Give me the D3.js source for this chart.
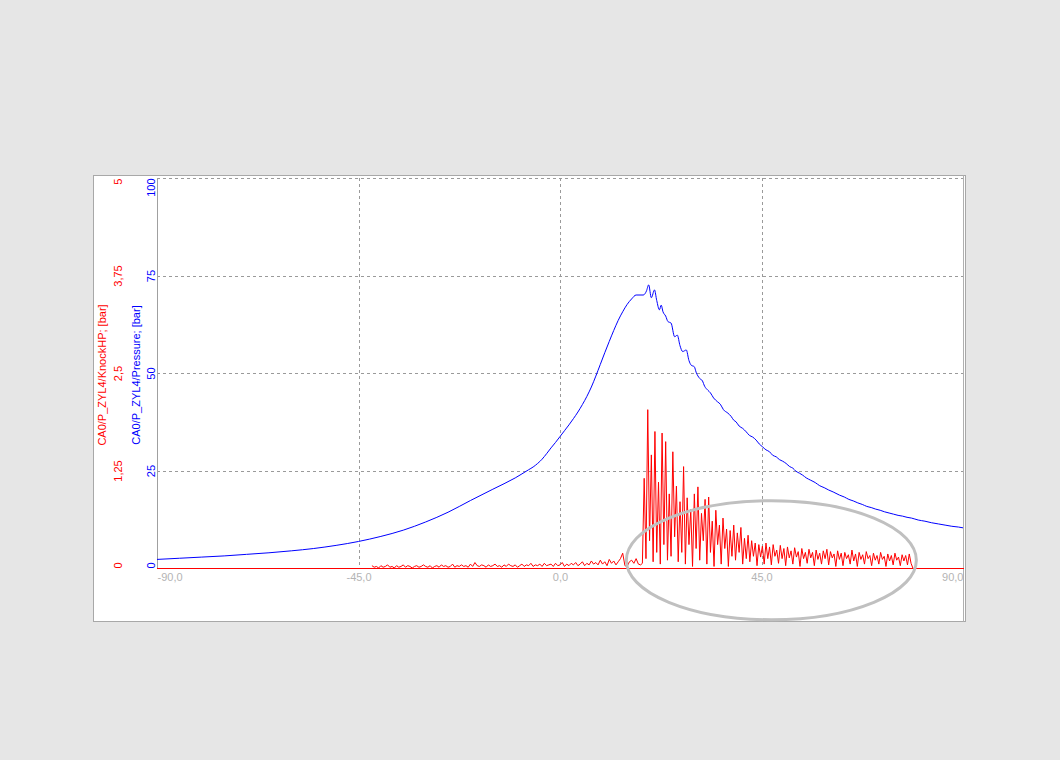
<!DOCTYPE html>
<html>
<head>
<meta charset="utf-8">
<script src="https://cdn.jsdelivr.net/npm/d3@7"></script>
<style>
  html, body { margin: 0; padding: 0; background: #e6e6e6; }
  svg { display: block; }
  text { font-family: "Liberation Sans", Arial, sans-serif; font-size: 11px; }
</style>
</head>
<body>
<svg id="chart" width="1060" height="760"></svg>
<script>
// ---------------- DATA ----------------
const xTickValues = [-90, -45, 0, 45, 90];
const xTickLabels = ["-90,0", "-45,0", "0,0", "45,0", "90,0"];
const pressureTicks = [0, 25, 50, 75, 100];
const pressureTickLabels = ["0", "25", "50", "75", "100"];
const knockTicks = [0, 1.25, 2.5, 3.75, 5];
const knockTickLabels = ["0", "1,25", "2,5", "3,75", "5"];
const pressureTitle = "CA0/P_ZYL4/Pressure; [bar]";
const knockTitle = "CA0/P_ZYL4/KnockHP; [bar]";

// Cylinder pressure [bar] vs crank angle [deg]
const pressureAngles = [
  -90, -85, -80, -75, -70, -65, -60, -55, -50, -45,
  -40, -35, -30, -25, -20, -15, -10, -7, -6, -5,
  -4, -3, -2, -1, 0, 1, 2, 3, 4, 5,
  6, 7, 8, 9, 10, 11, 12, 13, 14, 15,
  16, 17, 18.6, 19.3, 19.8, 20.4, 21.1, 21.6, 22.2, 22.6,
  23.0, 23.6, 24.1, 24.8, 25.6, 26.2, 26.8, 27.4, 28.2, 28.8,
  29.3, 30.0, 30.4, 31.2, 31.8, 32.3, 33.0, 33.6, 34.3, 35.2,
  35.8, 36.5, 37.5, 38.2, 38.8, 39.3, 40.0, 40.8, 41.6, 42.3,
  43.0, 43.8, 44.5, 45.2, 46.0, 46.8, 47.5, 48.3, 49.0, 49.7,
  50.5, 51.3, 52.0, 52.7, 53.5, 54.2, 55.0, 56.0, 57.0, 58.0,
  59.0, 60.0, 61.0, 62.4, 63.5, 64.5, 65.5, 66.5, 67.5, 68.5,
  69.5, 70.5, 71.5, 72.5, 73.5, 74.5, 75.5, 76.5, 77.5, 78.5,
  80.0, 81.5, 83.0, 84.5, 86.0, 87.5, 89.0, 90.0
];
const pressureValues = [
  2.2, 2.5, 2.8, 3.1, 3.5, 3.9, 4.4, 5.0, 5.8, 6.8,
  8.1, 9.7, 11.8, 14.3, 17.3, 20.2, 23.1, 25.2, 25.9, 26.8,
  27.9, 29.3, 30.8, 32.2, 33.7, 35.2, 36.7, 38.3, 40.0, 41.9,
  44.0, 46.4, 49.2, 52.2, 55.2, 58.1, 60.9, 63.5, 65.7, 67.6,
  69.0, 70.0, 70.0, 71.0, 72.6, 69.3, 71.3, 68.6, 66.2, 67.4,
  65.7, 64.6, 63.2, 62.8, 59.3, 59.7, 57.0, 55.5, 55.9, 53.2,
  52.0, 51.6, 50.2, 48.6, 48.0, 46.6, 45.6, 44.9, 43.6, 42.6,
  42.0, 40.6, 39.7, 38.9, 37.9, 37.5, 36.4, 35.8, 34.9, 34.0,
  33.6, 32.8, 31.8, 31.1, 30.3, 29.8, 28.9, 28.5, 27.8, 27.4,
  26.8, 26.0, 25.6, 24.8, 24.3, 23.8, 23.1, 22.5, 21.9, 21.1,
  20.6, 20.0, 19.5, 18.7, 18.2, 17.6, 17.2, 16.7, 16.3, 15.8,
  15.5, 15.1, 14.8, 14.4, 14.1, 13.8, 13.5, 13.3, 13.0, 12.8,
  12.3, 12.0, 11.6, 11.3, 11.0, 10.7, 10.5, 10.3
];

// Knock (high-pass) signal [bar]: background noise segment, 0.5 deg sampling from -42 deg
const noiseStart = -42;
const noiseStep = 0.5;
const noiseValues = [
  0.03, 0.01, 0.02, 0.00, 0.03, 0.01, 0.02, 0.04, 0.01, 0.02,
  0.00, 0.03, 0.01, 0.02, 0.04, 0.01, 0.03, 0.02, 0.00, 0.02,
  0.03, 0.01, 0.02, 0.04, 0.02, 0.01, 0.03, 0.00, 0.02, 0.03,
  0.01, 0.04, 0.02, 0.03, 0.01, 0.02, 0.05, 0.01, 0.03, 0.02,
  0.04, 0.02, 0.03, 0.01, 0.05, 0.02, 0.07, 0.03, 0.02, 0.04,
  0.03, 0.01, 0.04, 0.02, 0.03, 0.05, 0.02, 0.03, 0.01, 0.04,
  0.02, 0.05, 0.03, 0.02, 0.04, 0.01, 0.03, 0.05, 0.02, 0.04,
  0.03, 0.06, 0.02, 0.04, 0.03, 0.05, 0.02, 0.06, 0.03, 0.04,
  0.05, 0.02, 0.06, 0.03, 0.04, 0.07, 0.02, 0.05, 0.03, 0.06,
  0.04, 0.07, 0.03, 0.05, 0.08, 0.03, 0.06, 0.04, 0.09, 0.05,
  0.07, 0.04, 0.10, 0.05, 0.08, 0.03, 0.11, 0.06, 0.09, 0.04,
  0.08, 0.12, 0.19, 0.03, 0.02, 0.08, 0.10, 0.06, 0.12, 0.05,
  0.04
];
// Knock burst segment, 0.4 deg sampling from 18.4 deg
const knockStart = 18.4;
const knockStep = 0.4;
const knockValues = [
  0.06, 1.15, 0.12, 2.03, 0.35, 1.45, 0.08, 1.75, 0.20, 1.10,
  0.05, 1.73, 0.30, 1.62, 0.10, 0.95, 0.15, 1.49, 0.40, 1.05,
  0.08, 0.85, 0.20, 1.30, 0.05, 0.90, 0.30, 0.75, 0.02, 0.95,
  0.25, 1.04, 0.10, 0.70, 0.35, 0.88, 0.05, 0.91, 0.20, 0.60,
  0.02, 0.74, 0.30, 0.55, 0.05, 0.64, 0.25, 0.50, 0.02, 0.48,
  0.15, 0.55, 0.10, 0.45, 0.20, 0.52, 0.05, 0.38, 0.12, 0.42,
  0.08, 0.35, 0.15, 0.32, 0.03, 0.30, 0.14, 0.28, 0.05, 0.32,
  0.12, 0.27, 0.04, 0.30, 0.15, 0.23, 0.06, 0.29, 0.12, 0.25,
  0.03, 0.27, 0.13, 0.22, 0.05, 0.26, 0.14, 0.21, 0.02, 0.25,
  0.12, 0.20, 0.06, 0.24, 0.13, 0.20, 0.03, 0.23, 0.11, 0.19,
  0.05, 0.22, 0.12, 0.24, 0.04, 0.21, 0.13, 0.18, 0.02, 0.22,
  0.11, 0.19, 0.03, 0.20, 0.12, 0.17, 0.05, 0.23, 0.09, 0.18,
  0.02, 0.20, 0.11, 0.17, 0.05, 0.21, 0.12, 0.16, 0.03, 0.19,
  0.10, 0.16, 0.05, 0.20, 0.11, 0.15, 0.02, 0.18, 0.09, 0.16,
  0.04, 0.19, 0.10, 0.14, 0.03, 0.17, 0.09, 0.16, 0.04, 0.18,
  0.06, 0.00
];

// Annotation ellipse (data units for centre)
const ellipseCenter = { angle: 47.2, pressure: 2.0 };

// ---------------- LAYOUT ----------------
const svg = d3.select("#chart");
const plot = { left: 157, right: 963, top: 178, bottom: 568 };
const panel = { left: 93.5, top: 175.5, right: 965.5, bottom: 621.5 };

const x = d3.scaleLinear().domain([-90, 90]).range([plot.left, plot.right]);
const yP = d3.scaleLinear().domain([0, 100]).range([plot.bottom, plot.top]);
const yK = d3.scaleLinear().domain([0, 5]).range([plot.bottom, plot.top]);

const RED = "#ff0000", BLUE = "#0000ff", GRID = "#9a9a9a", XLBL = "#b4b4b4";

// panel
svg.append("rect")
  .attr("x", panel.left).attr("y", panel.top)
  .attr("width", panel.right - panel.left).attr("height", panel.bottom - panel.top)
  .attr("fill", "#ffffff").attr("stroke", "#a8a8a8").attr("stroke-width", 1);

// grid
const grid = svg.append("g").attr("shape-rendering", "crispEdges");
grid.selectAll("line.h").data(pressureTicks.filter(d => d > 0)).join("line")
  .attr("x1", plot.left).attr("x2", plot.right)
  .attr("y1", d => Math.round(yP(d)) + 0.5).attr("y2", d => Math.round(yP(d)) + 0.5)
  .attr("stroke", GRID).attr("stroke-dasharray", "3,3");
grid.selectAll("line.v").data(xTickValues.filter(d => d > -90 && d < 90)).join("line")
  .attr("x1", d => Math.round(x(d)) + 0.5).attr("x2", d => Math.round(x(d)) + 0.5)
  .attr("y1", plot.top).attr("y2", plot.bottom)
  .attr("stroke", GRID).attr("stroke-dasharray", "3,3");

// left axis line and right border
svg.append("line").attr("x1", plot.left + 0.5).attr("x2", plot.left + 0.5)
  .attr("y1", plot.top).attr("y2", plot.bottom).attr("stroke", "#a0a0a0");
svg.append("line").attr("x1", plot.right + 0.5).attr("x2", plot.right + 0.5)
  .attr("y1", panel.top).attr("y2", panel.bottom).attr("stroke", "#b0b0b0");

// x axis (labels only)
const xAxis = d3.axisBottom(x).tickValues(xTickValues)
  .tickFormat((d, i) => xTickLabels[i]).tickSize(0).tickPadding(0);
const gx = svg.append("g").attr("transform", `translate(0,${plot.bottom})`).call(xAxis);
gx.select(".domain").remove();
gx.selectAll("text")
  .attr("y", 13).attr("dy", 0)
  .attr("fill", XLBL)
  .style("font-size", "11px")
  .attr("text-anchor", (d, i) => i === 0 ? "start" : (i === xTickValues.length - 1 ? "end" : "middle"));

// y axes (rotated labels)
function yAxisLabels(scale, ticks, labels, offsetX, color) {
  const ax = d3.axisLeft(scale).tickValues(ticks).tickFormat((d, i) => labels[i]).tickSize(0);
  const g = svg.append("g").attr("transform", `translate(${offsetX},0)`).call(ax);
  g.select(".domain").remove();
  g.selectAll("text")
    .attr("x", 0).attr("dy", 0).attr("y", 0)
    .attr("transform", "rotate(-90)")
    .attr("fill", color)
    .style("font-size", "11px")
    .attr("text-anchor", (d, i) => i === 0 ? "start" : (i === ticks.length - 1 ? "end" : "middle"));
  return g;
}
yAxisLabels(yP, pressureTicks, pressureTickLabels, 155, BLUE);
yAxisLabels(yK, knockTicks, knockTickLabels, 122, RED);

// axis titles
const titleY = (plot.top + plot.bottom) / 2 + 2;
svg.append("text").attr("transform", `translate(106,${titleY}) rotate(-90)`)
  .attr("text-anchor", "middle").attr("fill", RED).text(knockTitle);
svg.append("text").attr("transform", `translate(140,${titleY}) rotate(-90)`)
  .attr("text-anchor", "middle").attr("fill", BLUE).text(pressureTitle);

// clip
svg.append("clipPath").attr("id", "clip").append("rect")
  .attr("x", plot.left).attr("y", plot.top - 1)
  .attr("width", plot.right - plot.left + 1).attr("height", plot.bottom - plot.top + 2);

// knock data
const knockData = [];
noiseValues.forEach((v, i) => knockData.push([noiseStart + i * noiseStep, v]));
knockValues.forEach((v, i) => knockData.push([knockStart + i * knockStep, v]));

const lineK = d3.line().x(d => x(d[0])).y(d => yK(d[1]));
// red zero baseline (x axis)
svg.append("line").attr("x1", plot.left).attr("x2", plot.right + 1)
  .attr("y1", plot.bottom + 0.5).attr("y2", plot.bottom + 0.5)
  .attr("stroke", RED).attr("stroke-width", 1.2);
svg.append("path").datum(knockData)
  .attr("clip-path", "url(#clip)")
  .attr("d", lineK).attr("fill", "none").attr("stroke", RED).attr("stroke-width", 1);

// pressure line
const pData = pressureAngles.map((a, i) => [a, pressureValues[i]]);
const lineP = d3.line().x(d => x(d[0])).y(d => yP(d[1])).curve(d3.curveMonotoneX);
svg.append("path").datum(pData)
  .attr("clip-path", "url(#clip)")
  .attr("d", lineP).attr("fill", "none").attr("stroke", BLUE).attr("stroke-width", 1);

// annotation ellipse
svg.append("ellipse")
  .attr("cx", x(ellipseCenter.angle)).attr("cy", yP(ellipseCenter.pressure))
  .attr("rx", 145).attr("ry", 59.5)
  .attr("fill", "none").attr("stroke", "#c0c0c0").attr("stroke-width", 3);
</script>
</body>
</html>
